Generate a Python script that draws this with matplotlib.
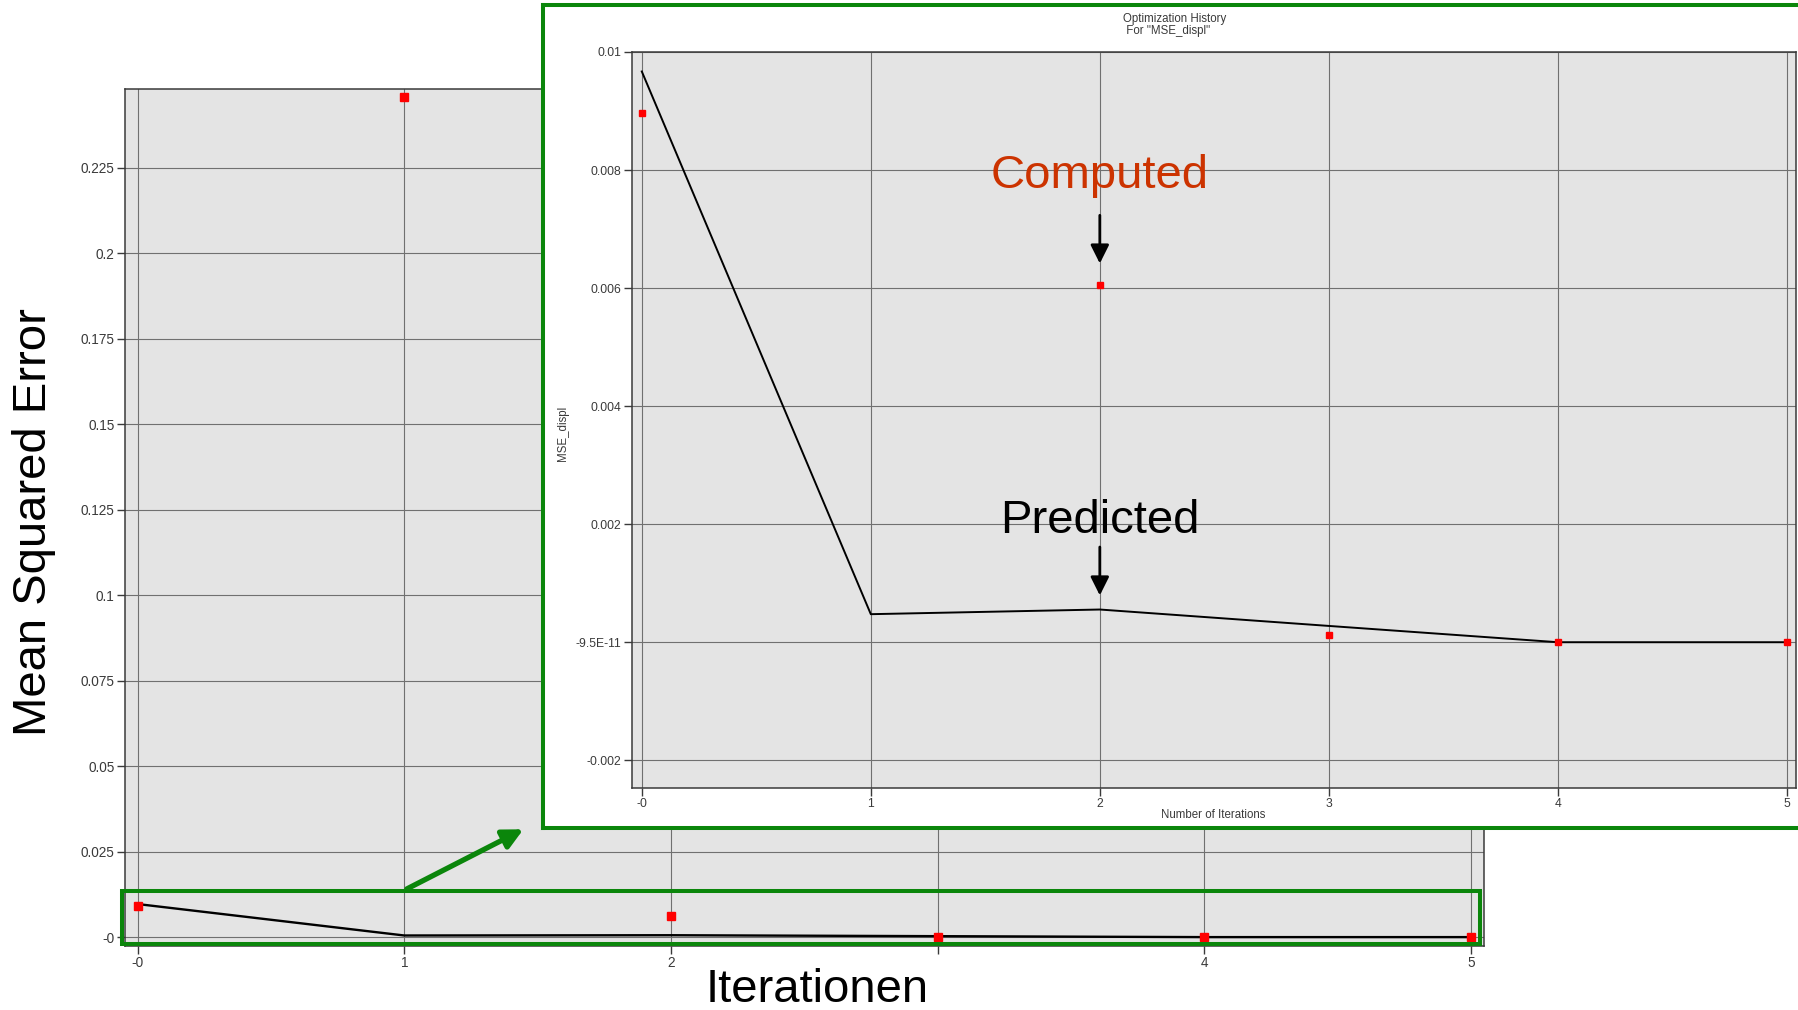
import matplotlib
matplotlib.use('Agg')
import matplotlib.pyplot as plt
from matplotlib.patches import Rectangle

plt.rcParams['font.family'] = ['Liberation Sans', 'DejaVu Sans']

# values
iterations = [0, 1, 2, 3, 4, 5]
computed = [0.00896, 0.2457, 0.00606, 0.00012, 0.0, 0.0]
predicted = [0.00967, 0.000475, 0.000554, 0.000276, 0.0, 0.0]

main_yticks = [0, 0.025, 0.05, 0.075, 0.1, 0.125, 0.15, 0.175, 0.2, 0.225]
main_ylabels = ['-0', '0.025', '0.05', '0.075', '0.1', '0.125', '0.15', '0.175', '0.2', '0.225']
main_xlabels = ['-0', '1', '2', '', '4', '5']

inset_yticks = [0.01, 0.008, 0.006, 0.004, 0.002, -9.5e-11, -0.002]
inset_ylabels = ['0.01', '0.008', '0.006', '0.004', '0.002', '-9.5E-11', '-0.002']
inset_xlabels = ['-0', '1', '2', '3', '4', '5']

W, H = 1798, 1010
green = '#0b860b'
bg = '#e4e4e4'

fig = plt.figure(figsize=(W / 100, H / 100), dpi=100)


def box(l, t, r, b):
    return [l / W, 1 - b / H, (r - l) / W, (b - t) / H]


def style(ax, size):
    ax.set_facecolor(bg)
    ax.set_axisbelow(True)
    ax.grid(True, color='#707070', linewidth=0.8)
    for s in ax.spines.values():
        s.set_color('#3a3a3a')
        s.set_linewidth(1.1)
    ax.tick_params(direction='out', length=5.5, width=1, color='#3a3a3a',
                   labelsize=size, labelcolor='#3a3a3a', pad=2)


# main chart
ax = fig.add_axes(box(125, 89, 1484, 946))
style(ax, 9.8)
ax.plot(iterations, predicted, color='black', linewidth=1.7, zorder=3)
ax.plot(iterations, computed, 's', color='red', markersize=5.8, zorder=4, clip_on=False)
ax.set_xlim(-0.047, 5.048)
ax.set_ylim(-0.0026, 0.248)
ax.set_xticks(iterations)
ax.set_xticklabels(main_xlabels)
ax.set_yticks(main_yticks)
ax.set_yticklabels(main_ylabels)

# zoom region marker + arrow
ax.add_patch(Rectangle((-0.057, -0.002), 5.09, 0.0155, fill=False, edgecolor=green,
                       linewidth=2.9, clip_on=False, zorder=5))
ax.annotate('', xy=(1.456, 0.0319), xytext=(1.0, 0.0137),
            arrowprops=dict(arrowstyle='-|>', color=green, linewidth=3.8, mutation_scale=30),
            annotation_clip=False, zorder=6)

fig.text(817 / W, 1 - 1002 / H, 'Iterationen', fontsize=34, ha='center', va='baseline')
fig.text(46 / W, 1 - 522 / H, 'Mean Squared Error', fontsize=34, ha='center', va='baseline',
         rotation=90, rotation_mode='anchor')

# white panel holding the zoomed screenshot
panel = fig.add_axes(box(543, 5, 1840, 828))
panel.set_facecolor('white')
panel.set_xticks([])
panel.set_yticks([])
for s in panel.spines.values():
    s.set_color(green)
    s.set_linewidth(2.9)

ax_in = fig.add_axes(box(631.5, 52, 1796, 788))
style(ax_in, 8.7)
ax_in.plot(iterations, predicted, color='black', linewidth=1.4, zorder=3)
ax_in.plot(iterations, computed, 's', color='red', markersize=4.5, zorder=4)
ax_in.set_xlim(-0.045, 5.04)
ax_in.set_ylim(-0.00247, 0.01)
ax_in.set_xticks(iterations)
ax_in.set_xticklabels(inset_xlabels)
ax_in.set_yticks(inset_yticks)
ax_in.set_yticklabels(inset_ylabels)

ax_in.text(2, 0.0077, 'Computed', color='#cc3300', fontsize=34, ha='center', va='baseline')
ax_in.annotate('', xy=(2, 0.00637), xytext=(2, 0.00728),
               arrowprops=dict(arrowstyle='-|>', color='black', linewidth=2, mutation_scale=28))
ax_in.text(2, 0.00185, 'Predicted', color='black', fontsize=34, ha='center', va='baseline')
ax_in.annotate('', xy=(2, 0.000746), xytext=(2, 0.00166),
               arrowprops=dict(arrowstyle='-|>', color='black', linewidth=2, mutation_scale=28))

fig.text(1123 / W, 1 - 13 / H, 'Optimization History\n For "MSE_displ"', fontsize=8.3,
         ha='left', va='top', linespacing=1.0, color='#3a3a3a')
fig.text(1213 / W, 1 - 815 / H, 'Number of Iterations', fontsize=8.3, ha='center',
         va='center', color='#3a3a3a')
fig.text(563 / W, 1 - 433 / H, 'MSE_displ', fontsize=8.3, ha='center', va='center',
         rotation=90, color='#3a3a3a')

fig.savefig('out.png', dpi=100)
